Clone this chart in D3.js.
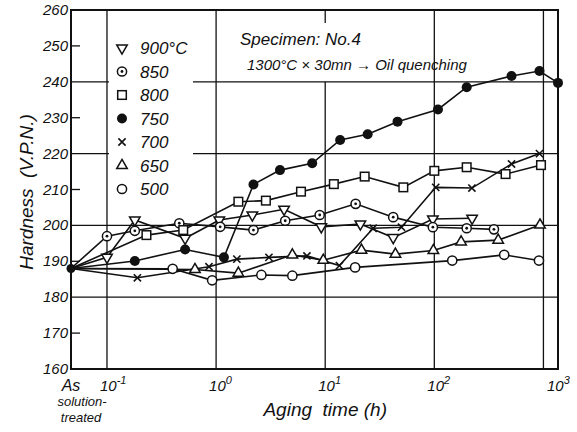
<!DOCTYPE html>
<html>
<head>
<meta charset="utf-8">
<script src="https://cdn.jsdelivr.net/npm/d3@7/dist/d3.min.js"></script>
<style>
  body { margin: 0; background: #fff; }
  text { font-family: "Liberation Sans", "DejaVu Sans", sans-serif; font-style: italic; fill: #111; }
</style>
</head>
<body>
<div id="chart"></div>
<script>
// "As solution-treated" is plotted at the left edge of the log axis
const AS_TREATED = 0.0468;
const T_MAX = 1360;

const t900 = [AS_TREATED, 0.1, 0.18, 0.52, 1.07, 2.15, 4.2, 9.2, 21, 42, 97, 222];
const h900 = [188, 191.1, 201.5, 196.4, 201.5, 202.9, 204.5, 199.6, 200.4, 196.6, 201.8, 202];

const t850 = [AS_TREATED, 0.1, 0.18, 0.46, 1.09, 2.2, 4.3, 8.9, 19, 42, 97, 198, 352];
const h850 = [188, 197, 198.5, 200.6, 199.6, 198.7, 201.3, 202.9, 206, 202.3, 199.5, 199.2, 198.9];

const t800 = [AS_TREATED, 0.23, 0.5, 1.6, 2.86, 6.0, 12, 23, 52, 100, 198, 450, 950];
const h800 = [188, 197.3, 198.7, 206.6, 206.9, 209.4, 211.5, 213.6, 210.6, 215.2, 216.2, 214.3, 216.8];

const t750 = [AS_TREATED, 0.18, 0.52, 1.18, 2.2, 3.85, 7.6, 13.7, 24.5, 46, 108, 198, 510, 920, 1360];
const h750 = [188, 190.1, 193.3, 191.1, 211.4, 215.4, 217.3, 223.8, 225.4, 228.9, 232.3, 238.5, 241.6, 243, 239.7];

const t700 = [AS_TREATED, 0.19, 0.86, 1.55, 3.05, 6.8, 13.5, 27.5, 50, 103, 221, 510, 920];
const h700 = [188, 185.4, 188.5, 190.6, 191.1, 191.5, 188.8, 199.2, 199.5, 210.6, 210.4, 217.1, 220];

const t650 = [AS_TREATED, 0.64, 1.6, 5.0, 9.6, 21.5, 44, 98, 176, 385, 930];
const h650 = [188, 187.7, 186.7, 191.8, 190.3, 193.1, 192, 193, 195.4, 195.9, 200.1];

const t500 = [AS_TREATED, 0.40, 0.92, 2.6, 5.0, 18.8, 146, 437, 910];
const h500 = [188, 187.9, 184.7, 186.2, 186, 188.3, 190.2, 191.8, 190.2];

const tempLabels = ["900°C", "850", "800", "750", "700", "650", "500"];
const markers = ["tridown", "dotcircle", "square", "filled", "cross", "triup", "circle"];

const yTicks = d3.range(160, 261, 10);
const yGrid = [180, 200, 220, 240];
const xTicks = [0.1, 1, 10, 100, 1000];
const xTickExp = ["-1", "0", "1", "2", "3"];

const series = [
  {t: t900, h: h900}, {t: t850, h: h850}, {t: t800, h: h800}, {t: t750, h: h750},
  {t: t700, h: h700}, {t: t650, h: h650}, {t: t500, h: h500}
].map((s, i) => ({
  label: tempLabels[i],
  marker: markers[i],
  points: s.t.map((t, j) => ({t: t, h: s.h[j]}))
}));

const width = 577, height = 432;
const margin = {top: 10, right: 19, bottom: 63, left: 71};
const innerW = width - margin.left - margin.right;
const innerH = height - margin.top - margin.bottom;

const svg = d3.select("#chart").append("svg")
  .attr("width", width)
  .attr("height", height);

const root = svg.append("g")
  .attr("transform", `translate(${margin.left},${margin.top})`);

const x = d3.scaleLog().domain([AS_TREATED, T_MAX]).range([0, innerW]);
const y = d3.scaleLinear().domain([160, 260]).range([innerH, 0]);

const ink = "#111";

// grid
root.selectAll(".hgrid").data(yGrid).enter().append("line")
  .attr("x1", 0).attr("x2", innerW)
  .attr("y1", d => y(d)).attr("y2", d => y(d))
  .attr("stroke", ink).attr("stroke-width", 1.3);

root.selectAll(".vgrid").data(xTicks).enter().append("line")
  .attr("x1", d => x(d)).attr("x2", d => x(d))
  .attr("y1", d => d === 10 ? y(240) : 0)
  .attr("y2", innerH)
  .attr("stroke", ink).attr("stroke-width", 1.3);

// short tick at top where the 10^1 line is broken by the title
root.append("line")
  .attr("x1", x(10)).attr("x2", x(10))
  .attr("y1", 0).attr("y2", 13)
  .attr("stroke", ink).attr("stroke-width", 1.3);

// minor y ticks (inside)
root.selectAll(".ytick").data(yTicks.filter(d => yGrid.indexOf(d) < 0 && d !== 160 && d !== 260))
  .enter().append("line")
  .attr("x1", 0).attr("x2", 9)
  .attr("y1", d => y(d)).attr("y2", d => y(d))
  .attr("stroke", ink).attr("stroke-width", 1.3);

// legend background hides the grid behind it
const legX = x(0.1) + 2;
root.append("rect")
  .attr("x", legX).attr("y", 22)
  .attr("width", 84).attr("height", 168)
  .attr("fill", "#fff");

// frame
root.append("rect")
  .attr("x", 0).attr("y", 0)
  .attr("width", innerW).attr("height", innerH)
  .attr("fill", "none").attr("stroke", ink).attr("stroke-width", 2);

// y tick labels
root.selectAll(".ylab").data(yTicks).enter().append("text")
  .attr("x", -3).attr("y", d => y(d) + 5)
  .attr("text-anchor", "end")
  .attr("font-size", 15)
  .text(d => d);

// x tick labels
xTicks.forEach((d, i) => {
  const px = i === xTicks.length - 1 ? x(T_MAX) - 11 : x(d) - 7;
  const t = root.append("text")
    .attr("x", px).attr("y", innerH + 22)
    .attr("font-size", 15);
  t.append("tspan").text("10");
  t.append("tspan").attr("dy", -7).attr("font-size", 11).text(xTickExp[i]);
});

// "As solution-treated"
root.append("text").attr("x", x(AS_TREATED)).attr("y", innerH + 22)
  .attr("text-anchor", "middle").attr("font-size", 16).text("As");
root.append("text").attr("x", x(AS_TREATED) + 11).attr("y", innerH + 37)
  .attr("text-anchor", "middle").attr("font-size", 13).text("solution-");
root.append("text").attr("x", x(AS_TREATED) + 10).attr("y", innerH + 53)
  .attr("text-anchor", "middle").attr("font-size", 13).text("treated");

// axis titles
root.append("text")
  .attr("x", x(10)).attr("y", innerH + 47)
  .attr("text-anchor", "middle").attr("font-size", 19)
  .attr("xml:space", "preserve")
  .text("Aging  time (h)");

svg.append("text")
  .attr("transform", "translate(33,192) rotate(-90)")
  .attr("text-anchor", "middle").attr("font-size", 19)
  .attr("xml:space", "preserve")
  .text("Hardness  (V.P.N.)");

// title block
root.append("text").attr("x", 169).attr("y", 35)
  .attr("font-size", 17).text("Specimen: No.4");
root.append("text").attr("x", 176).attr("y", 60)
  .attr("font-size", 15).text("1300°C × 30mn → Oil quenching");

// markers
function drawMarker(g, type, cx, cy) {
  if (type === "circle" || type === "dotcircle") {
    g.append("circle").attr("cx", cx).attr("cy", cy).attr("r", 4.6)
      .attr("fill", "#fff").attr("stroke", ink).attr("stroke-width", 1.5);
    if (type === "dotcircle") {
      g.append("circle").attr("cx", cx).attr("cy", cy).attr("r", 1.4).attr("fill", ink);
    }
  } else if (type === "filled") {
    g.append("circle").attr("cx", cx).attr("cy", cy).attr("r", 5).attr("fill", ink);
  } else if (type === "square") {
    g.append("rect").attr("x", cx - 4.3).attr("y", cy - 4.3)
      .attr("width", 8.6).attr("height", 8.6)
      .attr("fill", "#fff").attr("stroke", ink).attr("stroke-width", 1.5);
  } else if (type === "triup" || type === "tridown") {
    g.append("path")
      .attr("d", d3.symbol().type(d3.symbolTriangle).size(48)())
      .attr("transform", `translate(${cx},${cy})` + (type === "tridown" ? " rotate(180)" : ""))
      .attr("fill", "#fff").attr("stroke", ink).attr("stroke-width", 1.5);
  } else if (type === "cross") {
    const s = 3.6;
    g.append("path")
      .attr("d", `M${cx - s},${cy - s}L${cx + s},${cy + s}M${cx - s},${cy + s}L${cx + s},${cy - s}`)
      .attr("stroke", ink).attr("stroke-width", 1.6).attr("fill", "none");
  }
}

// lines
const line = d3.line().x(d => x(d.t)).y(d => y(d.h));
const plot = root.append("g");
series.forEach(s => {
  plot.append("path")
    .datum(s.points)
    .attr("d", line)
    .attr("fill", "none")
    .attr("stroke", ink)
    .attr("stroke-width", 1.6);
});
series.forEach(s => {
  s.points.forEach((p, j) => {
    if (j === 0) return; // shared as-treated start point
    drawMarker(plot, s.marker, x(p.t), y(p.h));
  });
});
plot.append("circle").attr("cx", x(AS_TREATED)).attr("cy", y(188)).attr("r", 4.5).attr("fill", ink);

// legend
const legend = root.append("g");
series.forEach((s, i) => {
  const ly = 38 + i * 23.5;
  drawMarker(legend, s.marker, 51, ly);
  legend.append("text")
    .attr("x", 69).attr("y", ly + 6)
    .attr("font-size", 17)
    .text(s.label);
});
</script>
</body>
</html>
